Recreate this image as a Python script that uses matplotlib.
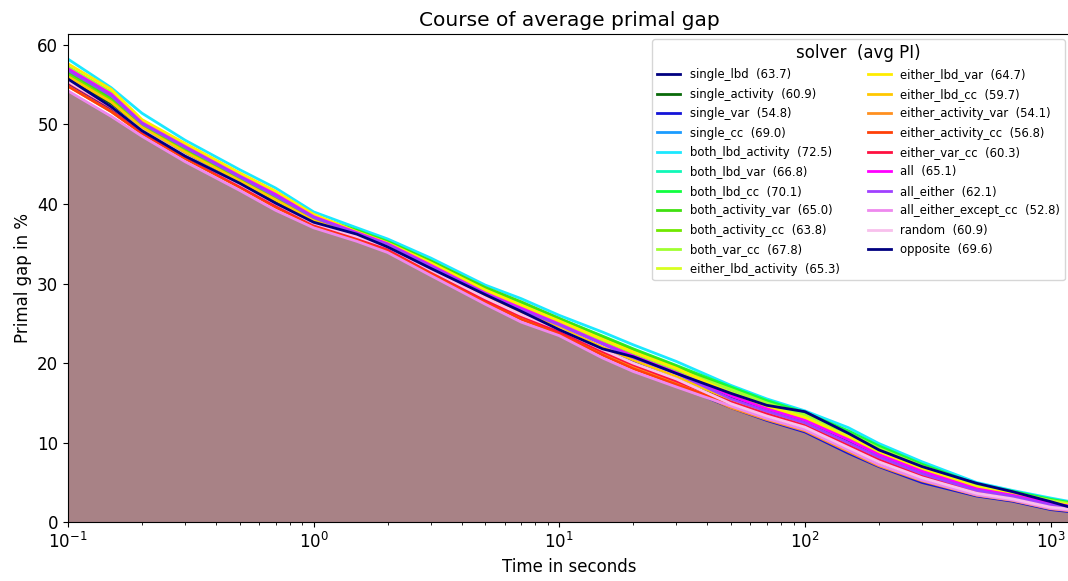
import matplotlib
matplotlib.use("Agg")
import matplotlib.pyplot as plt
import numpy as np

times = [0.1, 0.15, 0.2, 0.3, 0.5, 0.7, 1, 1.5, 2, 3, 5, 7, 10, 15, 20, 30,
         50, 70, 100, 150, 200, 300, 500, 700, 1000, 1200]

solvers = ["single_lbd", "single_activity", "single_var", "single_cc",
           "both_lbd_activity", "both_lbd_var", "both_lbd_cc", "both_activity_var",
           "both_activity_cc", "both_var_cc", "either_lbd_activity", "either_lbd_var",
           "either_lbd_cc", "either_activity_var", "either_activity_cc", "either_var_cc",
           "all", "all_either", "all_either_except_cc", "random", "opposite"]

avg_pi = [63.7, 60.9, 54.8, 69.0, 72.5, 66.8, 70.1, 65.0, 63.8, 67.8, 65.3, 64.7,
          59.7, 54.1, 56.8, 60.3, 65.1, 62.1, 52.8, 60.9, 69.6]

colors = ["#000080", "#0a6a0a", "#1414d8", "#1a9cff", "#1ce8ff", "#10f8b8",
          "#10ff40", "#40e010", "#70e800", "#a0ff30", "#d8ff20", "#ffec00",
          "#ffc800", "#ff9020", "#ff4008", "#ff1040", "#ff00ff", "#a040ff",
          "#ee88ee", "#f8c0ec", "#000080"]

single_lbd = [55.8, 52.6, 49.5, 46.4, 42.7, 40.3, 37.8, 36.0, 34.7, 31.8, 28.3, 26.2, 24.4,
              21.9, 20.2, 18.2, 15.7, 14.1, 12.7, 10.2, 8.35, 6.25, 4.1, 3.3, 2.3, 1.96]
single_activity = [55.6, 52.4, 49.4, 46.2, 42.6, 40.2, 37.7, 35.8, 34.5, 31.6, 28.05, 25.9, 24.1,
                   21.5, 19.85, 17.8, 15.2, 13.65, 12.2, 9.7, 7.9, 5.85, 3.83, 3.1, 2.05, 1.78]
single_var = [55.0, 51.8, 49.0, 45.85, 42.2, 39.75, 37.4, 35.6, 34.25, 31.35, 27.8, 25.6, 23.85,
              21.2, 19.5, 17.3, 14.4, 12.8, 11.35, 8.7, 7.0, 5.0, 3.3, 2.65, 1.6, 1.33]
single_cc = [56.6, 53.4, 50.0, 46.9, 43.25, 40.9, 38.2, 36.4, 35.0, 32.3, 28.8, 26.85, 24.9,
             22.5, 20.9, 18.8, 16.0, 14.4, 12.95, 10.5, 8.65, 6.5, 4.3, 3.47, 2.45, 2.09]
both_lbd_activity = [58.2, 54.6, 51.4, 48.0, 44.3, 42.0, 39.0, 37.0, 35.6, 33.2, 29.8, 28.1, 26.0,
                     23.9, 22.3, 20.2, 17.2, 15.5, 14.0, 11.9, 9.9, 7.6, 5.0, 4.0, 3.05, 2.6]
both_lbd_var = [56.5, 53.3, 50.1, 46.8, 43.35, 40.8, 38.25, 36.4, 35.1, 32.4, 28.9, 27.0, 25.1,
                22.7, 21.1, 19.0, 16.3, 14.7, 13.2, 10.8, 9.0, 6.8, 4.5, 3.6, 2.6, 2.2]
both_lbd_cc = [57.2, 54.0, 50.4, 47.3, 43.65, 41.3, 38.5, 36.7, 35.3, 32.85, 29.4, 27.6, 25.6,
               23.4, 21.8, 19.7, 17.0, 15.3, 13.8, 11.5, 9.6, 7.3, 4.8, 3.9, 2.9, 2.48]
both_activity_var = [56.6, 53.3, 50.0, 46.9, 43.3, 40.9, 38.3, 36.6, 35.2, 32.8, 29.5, 27.7, 25.6,
                     23.3, 21.7, 19.6, 16.7, 15.0, 13.5, 11.2, 9.3, 7.1, 4.6, 3.75, 2.75, 2.35]
both_activity_cc = [56.2, 53.0, 49.75, 46.65, 43.0, 40.6, 38.0, 36.45, 35.0, 32.35, 28.95, 26.9, 25.0,
                    22.6, 21.0, 18.9, 16.0, 14.4, 12.95, 10.5, 8.65, 6.5, 4.3, 3.5, 2.45, 2.1]
both_var_cc = [57.2, 54.0, 50.4, 47.3, 43.6, 41.3, 38.5, 36.4, 35.0, 32.5, 29.05, 27.2, 25.2,
               22.9, 21.3, 19.2, 16.7, 15.0, 13.5, 11.2, 9.3, 7.05, 4.65, 3.75, 2.75, 2.35]
either_lbd_activity = [57.0, 53.8, 50.25, 47.2, 43.5, 41.2, 38.4, 36.4, 35.0, 32.3, 28.8, 26.9, 24.9,
                       22.5, 20.9, 18.8, 16.3, 14.7, 13.2, 10.8, 9.0, 6.8, 4.45, 3.6, 2.6, 2.2]
either_lbd_var = [57.6, 54.4, 50.6, 47.6, 43.9, 41.6, 38.7, 36.5, 35.1, 32.6, 29.2, 27.3, 25.3,
                  23.0, 21.4, 19.35, 16.2, 14.55, 13.1, 10.7, 8.8, 6.65, 4.4, 3.55, 2.5, 2.15]
either_lbd_cc = [56.0, 52.8, 49.6, 46.5, 42.9, 40.5, 37.9, 36.1, 34.8, 31.9, 28.4, 26.4, 24.5,
                 22.0, 20.4, 18.3, 15.4, 13.8, 12.4, 9.9, 8.05, 6.0, 3.9, 3.2, 2.15, 1.84]
either_activity_var = [54.8, 51.6, 48.9, 45.7, 42.1, 39.6, 37.3, 35.6, 34.25, 31.35, 27.8, 25.6, 23.85,
                       21.2, 19.5, 17.5, 14.4, 12.9, 11.5, 8.9, 7.1, 5.2, 3.4, 2.75, 1.7, 1.45]
either_activity_cc = [54.8, 51.6, 48.85, 45.7, 42.1, 39.6, 37.3, 35.5, 34.15, 31.25, 27.7, 25.5, 23.7,
                      21.0, 19.3, 17.3, 14.9, 13.35, 11.9, 9.4, 7.6, 5.6, 3.65, 2.95, 1.9, 1.65]
either_var_cc = [55.3, 52.1, 49.1, 46.0, 42.35, 39.9, 37.5, 35.8, 34.4, 31.6, 28.0, 25.9, 24.0,
                 21.45, 19.8, 17.75, 15.1, 13.6, 12.15, 9.65, 7.85, 5.8, 3.8, 3.05, 2.0, 1.74]
all_ = [57.0, 53.8, 50.2, 47.2, 43.5, 41.2, 38.4, 36.4, 35.0, 32.3, 28.8, 26.9, 24.9,
        22.5, 20.9, 18.8, 15.9, 14.25, 12.8, 10.4, 8.5, 6.4, 4.2, 3.4, 2.4, 2.03]
all_either = [56.8, 53.6, 50.1, 47.1, 43.4, 41.0, 38.3, 36.3, 34.9, 32.15, 28.7, 26.7, 24.8,
              22.4, 20.7, 18.7, 15.5, 13.95, 12.5, 10.0, 8.2, 6.1, 4.0, 3.25, 2.2, 1.9]
all_either_except_cc = [54.2, 51.0, 48.5, 45.3, 41.7, 39.2, 37.0, 35.3, 33.9, 31.0, 27.4, 25.15, 23.45,
                        20.65, 18.95, 17.0, 14.6, 13.05, 11.65, 9.1, 7.25, 5.3, 3.45, 2.8, 1.75, 1.5]
random_ = [55.4, 52.2, 49.25, 46.1, 42.5, 40.05, 37.6, 35.9, 34.6, 31.7, 28.2, 26.1, 24.25,
           21.7, 20.0, 18.0, 14.9, 13.35, 11.95, 9.4, 7.6, 5.6, 3.65, 2.95, 1.9, 1.65]
opposite = [55.7, 52.2, 49.2, 46.0, 42.6, 40.1, 37.7, 36.2, 34.6, 31.9, 28.6, 26.5, 24.2,
            21.8, 20.8, 18.7, 16.2, 14.7, 13.9, 11.2, 9.1, 7.0, 4.9, 3.85, 2.6, 1.9]

series = [single_lbd, single_activity, single_var, single_cc, both_lbd_activity,
          both_lbd_var, both_lbd_cc, both_activity_var, both_activity_cc, both_var_cc,
          either_lbd_activity, either_lbd_var, either_lbd_cc, either_activity_var,
          either_activity_cc, either_var_cc, all_, all_either, all_either_except_cc,
          random_, opposite]

fig = plt.figure(figsize=(10.68, 5.81), dpi=100)
ax = fig.add_axes([68 / 1068, 1 - 522.3 / 581, 1002 / 1068, (522.3 - 34) / 581])

lowest = np.min(np.array(series), axis=0)
ax.fill_between(times, 0, lowest, color="#a88286", linewidth=0, zorder=1)

for name, pi, col, vals in zip(solvers, avg_pi, colors, series):
    ax.plot(times, vals, color=col, lw=2, label=f"{name}  ({pi:.1f})", zorder=2)

ax.set_xscale("log")
ax.set_xlim(0.1, 1200)
ax.set_ylim(0, 61.35)
ax.set_yticks([0, 10, 20, 30, 40, 50, 60])
ax.tick_params(labelsize=12)
ax.set_title("Course of average primal gap", fontsize=14.5)
ax.set_xlabel("Time in seconds", fontsize=12)
ax.set_ylabel("Primal gap in %", fontsize=12)

leg = ax.legend(title="solver  (avg PI)", ncol=2, fontsize=8.4, title_fontsize=12,
                loc="upper right", borderaxespad=0.45, columnspacing=2.4,
                labelspacing=0.55)

fig.savefig("out.png", dpi=100)
